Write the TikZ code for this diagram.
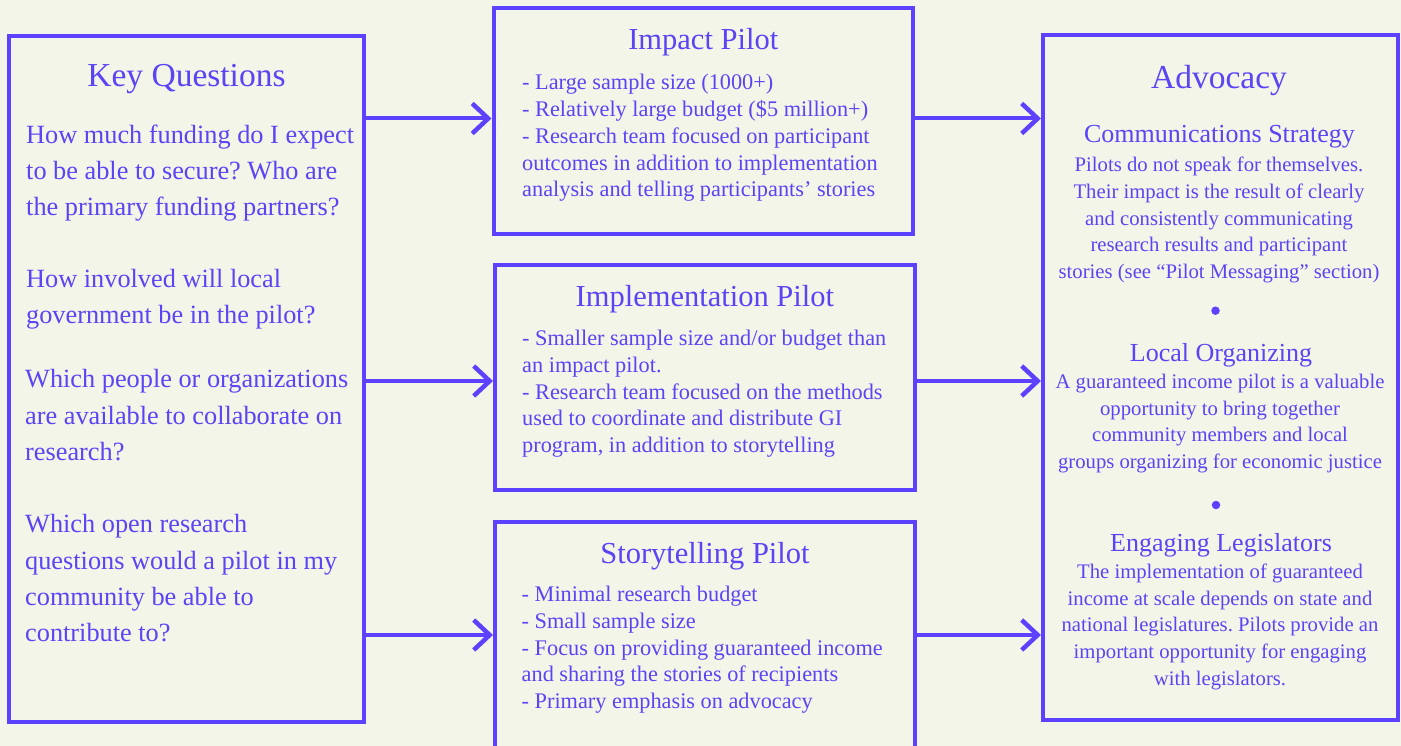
\documentclass[tikz,border=0pt]{standalone}
\usepackage{fontspec}
\setmainfont{Liberation Serif}
\usetikzlibrary{arrows.meta}
\definecolor{ink}{RGB}{92,66,255}
\definecolor{txt}{RGB}{90,68,245}
\definecolor{bg}{RGB}{243,245,232}
\frenchspacing
\begin{document}
\begin{tikzpicture}[x=1pt,y=-1pt,
  box/.style={draw=ink, line width=4pt, inner sep=0pt},
  arr/.style={draw=ink, line width=4pt, -{Straight Barb[length=16pt,width=30pt,line width=4.5pt]}},
  bigtitle/.style={text=txt, inner sep=0pt, anchor=base, font={\fontsize{33.5}{40}\selectfont}},
  midtitle/.style={text=txt, inner sep=0pt, anchor=base, font={\fontsize{30.5}{36}\selectfont}},
  subtitle/.style={text=txt, inner sep=0pt, anchor=base, font={\fontsize{26}{30}\selectfont}},
  qtext/.style={text=txt, inner sep=0pt, anchor=base west, align=left, font={\fontsize{26.3}{36.3}\selectfont}},
  midtext/.style={text=txt, inner sep=0pt, anchor=base west, align=left, font={\fontsize{22.3}{26.7}\selectfont}},
  advtext/.style={text=txt, inner sep=0pt, anchor=base, align=center, font={\fontsize{20.7}{26.7}\selectfont}},
  dot/.style={circle, fill=ink, inner sep=0pt, minimum size=8.5pt}]
\useasboundingbox[fill=bg] (0,0) rectangle (1401,746);

% boxes
\node[box, minimum width=355pt, minimum height=685.5pt] (kq) at (186.5,379.25) {};
\node[box, minimum width=419.5pt, minimum height=226.5pt] (imp) at (703.25,121.25) {};
\node[box, minimum width=419.7pt, minimum height=224.8pt] (impl) at (704.85,377.9) {};
\node[box, minimum width=420pt, minimum height=226.6pt] (story) at (705,635) {};
\node[box, minimum width=355pt, minimum height=684.7pt] (adv) at (1220.5,377.65) {};

% connectors
\draw[arr] ([yshift=2.75pt]kq.east |- imp.west) -- ([yshift=2.75pt]imp.west);
\draw[arr] ([yshift=-3.1pt]kq.east |- impl.west) -- ([yshift=-3.1pt]impl.west);
\draw[arr] (kq.east |- story.west) -- (story.west);
\draw[arr] ([yshift=2.75pt]imp.east) -- ([yshift=2.75pt]imp.east -| adv.west);
\draw[arr] ([yshift=-3.1pt]impl.east) -- ([yshift=-3.1pt]impl.east -| adv.west);
\draw[arr] (story.east) -- (story.east -| adv.west);

% key questions (multi-line nodes are placed by the baseline of their last line)
\node[bigtitle] (kqt) at (186.5,87) {Key Questions};
\node[qtext] (q1) at (26,215.9) {How much funding do I expect\\to be able to secure? Who are\\the primary funding partners?};
\node[qtext] (q2) at (26,323.6) {How involved will local\\government be in the pilot?};
\node[qtext] (q3) at (25,460.3) {Which people or organizations\\are available to collaborate on\\research?};
\node[qtext] (q4) at (25,641.6) {Which open research\\questions would a pilot in my\\community be able to\\contribute to?};

% impact pilot
\node[midtitle] (impt) at (703.25,50) {Impact Pilot};
\node[midtext] (impx) at (522,196.8) {- Large sample size (1000+)\\- Relatively large budget (\$5 million+)\\- Research team focused on participant\\outcomes in addition to implementation\\analysis and telling participants’ stories};

% implementation pilot
\node[midtitle] (implt) at (704.85,306.7) {Implementation Pilot};
\node[midtext] (implx) at (522,452.5) {- Smaller sample size and/or budget than\\an impact pilot.\\- Research team focused on the methods\\used to coordinate and distribute GI\\program, in addition to storytelling};

% storytelling pilot
\node[midtitle] (storyt) at (705,563.3) {Storytelling Pilot};
\node[midtext] (storyx) at (521.5,708.5) {- Minimal research budget\\- Small sample size\\- Focus on providing guaranteed income\\and sharing the stories of recipients\\- Primary emphasis on advocacy};

% advocacy
\node[bigtitle] (advt) at (1219,88.3) {Advocacy};
\node[subtitle] (comt) at (1219.5,142.7) {Communications Strategy};
\node[advtext] (comx) at (1219,278.5) {Pilots do not speak for themselves.\\Their impact is the result of clearly\\and consistently communicating\\research results and participant\\stories (see “Pilot Messaging” section)};
\node[dot] (d1) at (1215.5,310.7) {};
\node[subtitle] (loct) at (1221,361.7) {Local Organizing};
\node[advtext] (locx) at (1220,468.4) {A guaranteed income pilot is a valuable\\opportunity to bring together\\community members and local\\groups organizing for economic justice};
\node[dot] (d2) at (1216,505) {};
\node[subtitle] (engt) at (1221,551.7) {Engaging Legislators};
\node[advtext] (engx) at (1220,685.1) {The implementation of guaranteed\\income at scale depends on state and\\national legislatures. Pilots provide an\\important opportunity for engaging\\with legislators.};
\end{tikzpicture}
\end{document}
